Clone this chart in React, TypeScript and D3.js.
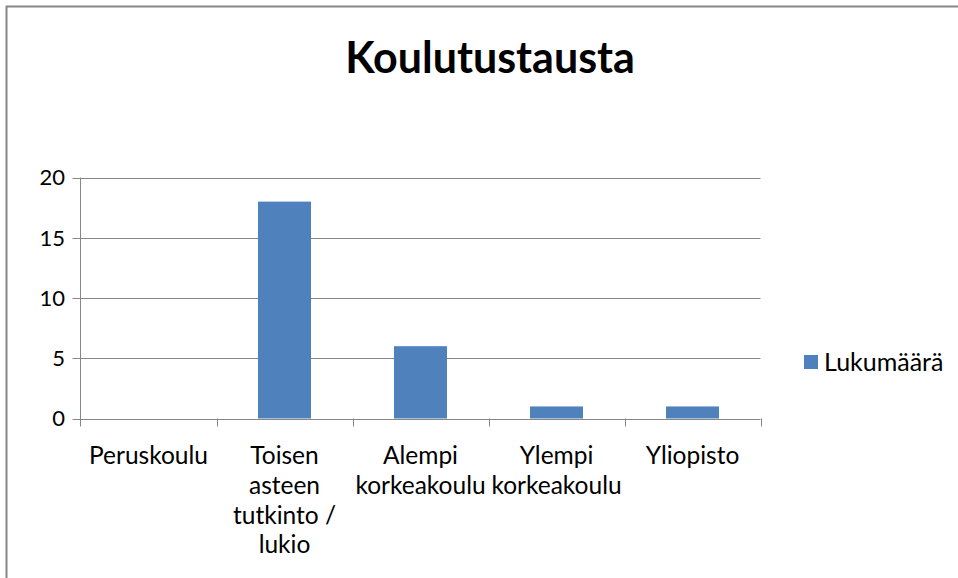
import React from "react";
import * as d3 from "d3";

const categories: string[][] = [
  ["Peruskoulu"],
  ["Toisen", "asteen", "tutkinto /", "lukio"],
  ["Alempi", "korkeakoulu"],
  ["Ylempi", "korkeakoulu"],
  ["Yliopisto"],
];
const categoryKeys = ["Peruskoulu", "Toisen asteen tutkinto / lukio", "Alempi korkeakoulu", "Ylempi korkeakoulu", "Yliopisto"];
const values = [0, 18, 6, 1, 1];
const yTicks = [0, 5, 10, 15, 20];
const seriesName = "Lukumäärä";
const title = "Koulutustausta";

const W = 958, H = 578;
const FONT = "Lato, 'Open Sans', sans-serif";
const BAR = "#4f81bd";

export default function App() {
  const left = 80.5, right = 760.5, top = 177.5, bottom = 418.5;
  const x = d3.scaleBand<string>().domain(categoryKeys).range([left, right]).paddingInner(0.61).paddingOuter(0.305);
  const xb = d3.scaleBand<string>().domain(categoryKeys).range([left, right]);
  const y = d3.scaleLinear().domain([0, 20]).range([bottom, top]);

  return (
    <svg width={W} height={H} style={{ position: "absolute", left: 0, top: 0, background: "#fff" }}>
      <rect x={0} y={0} width={W} height={H} fill="#fff" />
      <path d={`M6.5,${H} L6.5,6.5 L${W},6.5`} fill="none" stroke="#868686" strokeWidth={2} />
      <text x={490} y={73} textAnchor="middle" fontFamily={FONT} fontWeight="bold" fontSize={43} fill="#000">{title}</text>
      {yTicks.map((t) => (
        <g key={t}>
          <line x1={left - 8} x2={right} y1={Math.round(y(t)) + 0.5} y2={Math.round(y(t)) + 0.5} stroke="#868686" strokeWidth={1} />
          <text x={65} y={y(t)} dy="0.36em" textAnchor="end" fontFamily={FONT} fontSize={22} fill="#000">{t}</text>
        </g>
      ))}
      <line x1={left} x2={left} y1={top} y2={bottom + 8} stroke="#868686" />
      {categoryKeys.map((c) => (
        <line key={"t" + c} x1={Math.round(xb(c)! + xb.bandwidth()) + 0.5} x2={Math.round(xb(c)! + xb.bandwidth()) + 0.5} y1={bottom} y2={bottom + 8} stroke="#868686" />
      ))}
      {categoryKeys.map((c, i) => (
        <rect key={"b" + c} x={x(c)} y={y(values[i])} width={x.bandwidth()} height={y(0) - y(values[i])} fill={BAR} />
      ))}
      {categoryKeys.map((c, i) => (
        <text key={"l" + c} x={xb(c)! + xb.bandwidth() / 2} y={464} textAnchor="middle" fontFamily={FONT} fontSize={24.5} fill="#000">
          {categories[i].map((ln, j) => (
            <tspan key={j} x={xb(c)! + xb.bandwidth() / 2} dy={j === 0 ? 0 : 29.8}>{ln}</tspan>
          ))}
        </text>
      ))}
      <rect x={804} y={355} width={14} height={14} fill={BAR} />
      <text x={824} y={362} dy="0.36em" fontFamily={FONT} fontSize={25} fill="#000">{seriesName}</text>
    </svg>
  );
}
